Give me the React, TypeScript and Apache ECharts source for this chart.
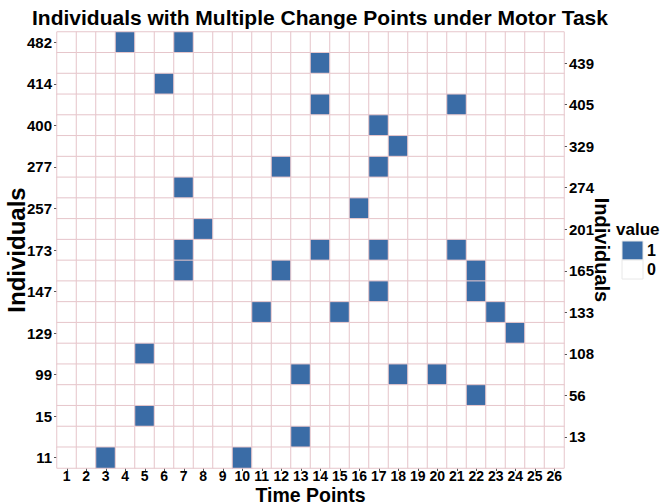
import React, { useEffect, useRef } from "react";
import * as echarts from "echarts";

const timePoints = Array.from({ length: 26 }, (_, i) => String(i + 1));
const individuals = ["482", "439", "414", "405", "400", "329", "277", "274", "257", "201", "173", "165", "147", "133", "129", "108", "99", "56", "15", "13", "11"];
const changePoints: number[][] = [
  [4, 7], [14], [6], [14, 21], [17], [18], [12, 17], [7], [16], [8],
  [7, 14, 17, 21], [7, 12, 22], [17, 22], [11, 15, 23], [24], [5],
  [13, 18, 20], [22], [5], [13], [3, 10],
];
const legendLabels = ["1", "0"];

const BLUE = "#3a6ca6";
const FONT = "'Liberation Sans', Arial, sans-serif";

export default function App() {
  const ref = useRef<HTMLDivElement>(null);
  useEffect(() => {
    if (!ref.current) return;
    const chart = echarts.init(ref.current, null, { renderer: "svg" });
    const data: number[][] = [];
    individuals.forEach((_, r) => {
      timePoints.forEach((_, c) => {
        const v = changePoints[r].includes(c + 1) ? 1 : 0;
        data.push([c, r, v]);
      });
    });
    const labelStyle = { color: "#000", fontWeight: "bold" as const, fontSize: 15, fontFamily: FONT };
    const nameStyle = { color: "#000", fontWeight: "bold" as const, fontSize: 21, fontFamily: FONT };
    chart.setOption({
      animation: false,
      backgroundColor: "#fff",
      title: {
        text: "Individuals with Multiple Change Points under Motor Task",
        left: 27,
        top: 2,
        textStyle: { ...nameStyle, fontSize: 21 },
      },
      grid: { left: 57, right: 104, top: 32, bottom: 36, outerBoundsMode: "none", containLabel: false },
      xAxis: {
        type: "category",
        data: timePoints,
        name: "Time Points",
        nameLocation: "middle",
        nameGap: 17,
        nameMoveOverlap: false,
        nameTextStyle: { ...nameStyle, fontSize: 19.5, verticalAlign: "top", lineHeight: 19 },
        axisLine: { show: false },
        axisTick: { show: true, alignWithLabel: true, length: 3, lineStyle: { color: "#555" } },
        axisLabel: { ...labelStyle, fontSize: 14, margin: 1, interval: 0, lineHeight: 14 },
        splitLine: { show: false },
      },
      yAxis: [
        {
          type: "category",
          data: individuals,
          inverse: true,
          position: "left",
          name: "Individuals",
          nameLocation: "middle",
          nameRotate: 90,
          nameGap: 29,
          nameMoveOverlap: false,
          nameTextStyle: { ...nameStyle, fontSize: 24 },
          axisLine: { show: false },
          axisTick: { show: true, alignWithLabel: true, length: 3, interval: (i: number) => i % 2 === 0, lineStyle: { color: "#555" } },
          axisLabel: { ...labelStyle, margin: 5, interval: (i: number) => i % 2 === 0 },
          splitLine: { show: false },
        },
        {
          type: "category",
          data: individuals,
          inverse: true,
          position: "right",
          name: "Individuals",
          nameLocation: "middle",
          nameRotate: -90,
          nameGap: 28,
          nameMoveOverlap: false,
          nameTextStyle: { ...nameStyle, fontSize: 20 },
          axisLine: { show: false },
          axisTick: { show: true, alignWithLabel: true, length: 3, interval: (i: number) => i % 2 === 1, lineStyle: { color: "#555" } },
          axisLabel: { ...labelStyle, margin: 5, interval: (i: number) => i % 2 === 1 },
          splitLine: { show: false },
        },
      ],
      visualMap: {
        show: false,
        type: "piecewise",
        dimension: 2,
        pieces: [
          { value: 1, color: BLUE },
          { value: 0, color: "#ffffff" },
        ],
      },
      series: [
        {
          type: "heatmap",
          xAxisIndex: 0,
          yAxisIndex: 0,
          data,
          itemStyle: { borderColor: "#e6c6cb", borderWidth: 1 },
          emphasis: { disabled: true },
        },
      ],
      graphic: [
        { type: "text", left: 616, top: 221, style: { text: "value", font: `bold 17px ${FONT}`, fill: "#000" } },
        { type: "rect", shape: { x: 622, y: 241, width: 21, height: 19 }, style: { fill: BLUE, stroke: "#e8e8e8", lineWidth: 1 } },
        { type: "rect", shape: { x: 622, y: 260, width: 21, height: 19 }, style: { fill: "#fff", stroke: "#e8e8e8", lineWidth: 1 } },
        { type: "text", left: 647, top: 242, style: { text: legendLabels[0], font: `bold 16px ${FONT}`, fill: "#000" } },
        { type: "text", left: 647, top: 261, style: { text: legendLabels[1], font: `bold 16px ${FONT}`, fill: "#000" } },
      ],
    });
    return () => chart.dispose();
  }, []);
  return <div ref={ref} style={{ position: "fixed", left: 0, top: 0, width: 668, height: 504 }} />;
}
